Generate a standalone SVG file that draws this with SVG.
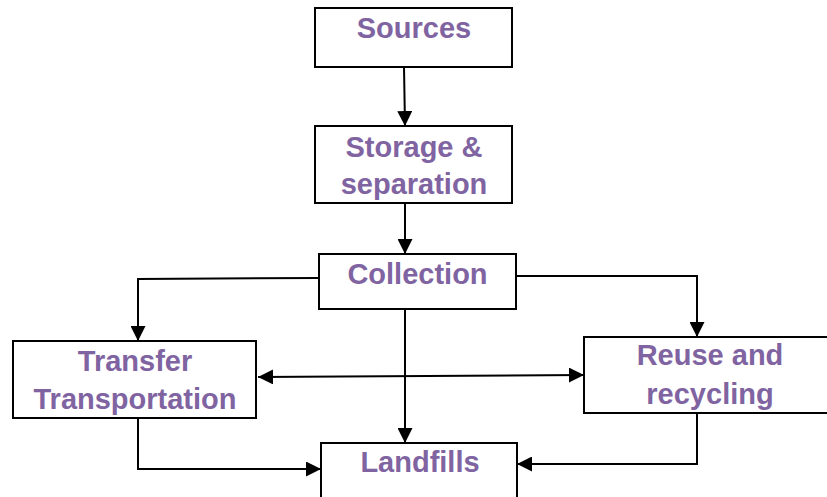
<svg xmlns="http://www.w3.org/2000/svg" width="827" height="497" viewBox="0 0 827 497">
<style>
.box{fill:#fff;stroke:#000;stroke-width:2}
.t{font-family:"Liberation Sans",Arial,sans-serif;font-weight:bold;font-size:29px;fill:#8064A2;text-anchor:middle}
.c{fill:none;stroke:#000;stroke-width:2}
</style>
<defs>
<marker id="ah" viewBox="0 0 10 10" refX="10" refY="5" markerWidth="15" markerHeight="15" markerUnits="userSpaceOnUse" orient="auto-start-reverse">
<path d="M0,0 L10,5 L0,10 Z" fill="#000"/>
</marker>
</defs>
<rect width="827" height="497" fill="#fff"/>
<g id="connectors">
<path class="c" d="M404,67 L405,126" marker-end="url(#ah)"/>
<path class="c" d="M405,203 L405,254" marker-end="url(#ah)"/>
<path class="c" d="M319,278 L138,279 L138,341" marker-end="url(#ah)"/>
<path class="c" d="M516,276 L697,276 L697,337" marker-end="url(#ah)"/>
<path class="c" d="M405,309 L405,443" marker-end="url(#ah)"/>
<path class="c" d="M258,377 L584,375" marker-start="url(#ah)" marker-end="url(#ah)"/>
<path class="c" d="M138,418 L138,469 L321,469" marker-end="url(#ah)"/>
<path class="c" d="M697,413 L697,464 L517,464" marker-end="url(#ah)"/>
</g>
<g id="sources">
<rect class="box" x="315" y="8" width="197" height="59"/>
<text class="t" x="414" y="38">Sources</text>
</g>
<g id="storage">
<rect class="box" x="315" y="126" width="197" height="77"/>
<text class="t" x="414" y="157">Storage &amp;</text>
<text class="t" x="414" y="194">separation</text>
</g>
<g id="collection">
<rect class="box" x="319" y="254" width="197" height="55"/>
<text class="t" x="417.5" y="284">Collection</text>
</g>
<g id="transfer">
<rect class="box" x="13" y="341" width="243" height="77"/>
<text class="t" x="135" y="371">Transfer</text>
<text class="t" x="135" y="409">Transportation</text>
</g>
<g id="reuse">
<rect class="box" x="584" y="337" width="250" height="76"/>
<text class="t" x="710" y="365">Reuse and</text>
<text class="t" x="710" y="404">recycling</text>
</g>
<g id="landfills">
<rect class="box" x="321" y="443" width="196" height="60"/>
<text class="t" x="420" y="472">Landfills</text>
</g>
</svg>
